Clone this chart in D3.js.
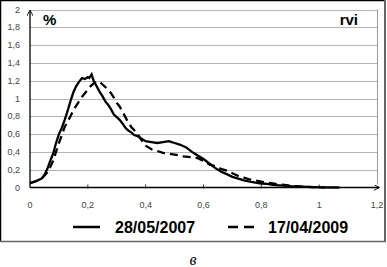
<!DOCTYPE html>
<html>
<head>
<meta charset="utf-8">
<script src="https://cdn.jsdelivr.net/npm/d3@7"></script>
<style>
  body { margin: 0; background: #fff; }
  svg { display: block; }
</style>
</head>
<body>
<div class="canvas"></div>
<script>
// chart values
const xTicks = [0, 0.2, 0.4, 0.6, 0.8, 1, 1.2];
const yTicks = [0, 0.2, 0.4, 0.6, 0.8, 1, 1.2, 1.4, 1.6, 1.8, 2];
const seriesNames = ['28/05/2007', '17/04/2009'];

// 28/05/2007 (solid)
const solidX = [0, 0.02, 0.04, 0.05, 0.06, 0.07, 0.08, 0.09, 0.10, 0.11, 0.12, 0.13, 0.14, 0.15, 0.16, 0.17, 0.18, 0.19, 0.20, 0.205, 0.213, 0.22, 0.23, 0.24, 0.25, 0.26, 0.27, 0.28, 0.29, 0.30, 0.31, 0.32, 0.33, 0.34, 0.35, 0.36, 0.37, 0.38, 0.39, 0.40, 0.42, 0.44, 0.46, 0.48, 0.49, 0.50, 0.52, 0.54, 0.56, 0.58, 0.60, 0.62, 0.64, 0.66, 0.68, 0.70, 0.72, 0.74, 0.76, 0.78, 0.80, 0.82, 0.84, 0.86, 0.88, 0.90, 0.94, 0.98, 1.02, 1.07];
const solidY = [0.05, 0.07, 0.10, 0.14, 0.21, 0.30, 0.38, 0.50, 0.60, 0.67, 0.76, 0.86, 0.97, 1.07, 1.14, 1.19, 1.23, 1.22, 1.24, 1.23, 1.27, 1.20, 1.14, 1.08, 1.03, 0.97, 0.93, 0.88, 0.82, 0.79, 0.76, 0.72, 0.67, 0.64, 0.62, 0.59, 0.58, 0.56, 0.54, 0.52, 0.51, 0.50, 0.51, 0.52, 0.51, 0.50, 0.48, 0.45, 0.40, 0.36, 0.32, 0.27, 0.22, 0.18, 0.15, 0.12, 0.10, 0.08, 0.065, 0.055, 0.045, 0.04, 0.03, 0.025, 0.02, 0.015, 0.01, 0.005, 0.002, 0];

// 17/04/2009 (dashed)
const dashX = [0, 0.02, 0.04, 0.06, 0.07, 0.08, 0.09, 0.10, 0.11, 0.12, 0.13, 0.14, 0.15, 0.16, 0.17, 0.18, 0.19, 0.20, 0.21, 0.22, 0.23, 0.24, 0.25, 0.26, 0.27, 0.28, 0.29, 0.30, 0.31, 0.32, 0.335, 0.35, 0.37, 0.38, 0.39, 0.40, 0.42, 0.44, 0.46, 0.48, 0.50, 0.53, 0.56, 0.58, 0.60, 0.62, 0.64, 0.66, 0.68, 0.70, 0.72, 0.74, 0.76, 0.78, 0.80, 0.82, 0.84, 0.86, 0.88, 0.90, 0.94, 0.98, 1.02];
const dashY = [0.05, 0.07, 0.10, 0.17, 0.23, 0.30, 0.40, 0.50, 0.59, 0.68, 0.74, 0.80, 0.87, 0.92, 0.97, 1.02, 1.06, 1.10, 1.14, 1.17, 1.19, 1.19, 1.16, 1.13, 1.10, 1.06, 1.01, 0.95, 0.91, 0.85, 0.76, 0.68, 0.61, 0.56, 0.51, 0.47, 0.43, 0.41, 0.39, 0.38, 0.37, 0.35, 0.34, 0.33, 0.30, 0.26, 0.24, 0.21, 0.19, 0.16, 0.13, 0.11, 0.09, 0.08, 0.065, 0.055, 0.045, 0.035, 0.028, 0.02, 0.01, 0.005, 0];

// dimensions
const W = 387, H = 267;
const plot = {left: 30, right: 377, top: 9.5, bottom: 187.5};
const fmt = d => String(d).replace('.', ',');

const svg = d3.select('.canvas')
    .append('svg')
    .attr('width', W)
    .attr('height', H);

const x = d3.scaleLinear().domain([0, 1.2]).range([plot.left, plot.right]);
const y = d3.scaleLinear().domain([0, 2]).range([plot.bottom, plot.top]);

// outer frame
svg.append('line').attr('x1', 0.5).attr('y1', 0).attr('x2', 0.5).attr('y2', 242).attr('stroke', '#000').attr('stroke-width', 1.5);
svg.append('line').attr('x1', 0).attr('y1', 0.5).attr('x2', 385).attr('y2', 0.5).attr('stroke', '#000').attr('stroke-width', 1.5);
svg.append('line').attr('x1', 385).attr('y1', 0).attr('x2', 385).attr('y2', 242).attr('stroke', '#666').attr('stroke-width', 2);
svg.append('line').attr('x1', 0).attr('y1', 241.5).attr('x2', 386).attr('y2', 241.5).attr('stroke', '#666').attr('stroke-width', 1.5);

// gridlines
svg.append('g')
    .selectAll('line')
    .data(yTicks.filter(d => d > 0))
    .enter().append('line')
    .attr('x1', plot.left).attr('x2', plot.right)
    .attr('y1', d => Math.round(y(d)) + 0.5).attr('y2', d => Math.round(y(d)) + 0.5)
    .attr('stroke', '#b4b4b4').attr('stroke-width', 1);

// plot right border
svg.append('line')
    .attr('x1', plot.right + 0.5).attr('x2', plot.right + 0.5)
    .attr('y1', plot.top).attr('y2', plot.bottom - 3)
    .attr('stroke', '#999');

// y labels
svg.append('g')
    .selectAll('text')
    .data(yTicks)
    .enter().append('text')
    .attr('x', 20)
    .attr('y', d => y(d) + 3)
    .attr('text-anchor', 'end')
    .attr('font-family', 'Liberation Sans, Arial, sans-serif')
    .attr('font-size', 9)
    .attr('fill', '#444')
    .text(fmt);

// x labels
svg.append('g')
    .selectAll('text')
    .data(xTicks)
    .enter().append('text')
    .attr('x', d => x(d))
    .attr('y', 208)
    .attr('text-anchor', 'middle')
    .attr('font-family', 'Liberation Sans, Arial, sans-serif')
    .attr('font-size', 9)
    .attr('fill', '#444')
    .text(fmt);

// x ticks
svg.append('g')
    .selectAll('line')
    .data(xTicks.slice(1, -1))
    .enter().append('line')
    .attr('x1', d => x(d)).attr('x2', d => x(d))
    .attr('y1', plot.bottom - 3).attr('y2', plot.bottom + 1)
    .attr('stroke', '#333');

// arrow marker
svg.append('defs').append('marker')
    .attr('id', 'arr')
    .attr('viewBox', '0 0 10 10')
    .attr('refX', 9).attr('refY', 5)
    .attr('markerWidth', 6).attr('markerHeight', 6)
    .attr('markerUnits', 'userSpaceOnUse')
    .attr('orient', 'auto')
    .append('path')
    .attr('d', 'M0,0L10,5L0,10')
    .attr('fill', 'none')
    .attr('stroke', '#000')
    .attr('stroke-width', 1.5);

// axes
svg.append('line')
    .attr('x1', plot.left).attr('y1', plot.bottom)
    .attr('x2', plot.right + 2).attr('y2', plot.bottom)
    .attr('stroke', '#000').attr('stroke-width', 1.3)
    .attr('marker-end', 'url(#arr)');
svg.append('line')
    .attr('x1', plot.left).attr('y1', plot.bottom)
    .attr('x2', plot.left).attr('y2', plot.top + 1)
    .attr('stroke', '#000').attr('stroke-width', 1.3)
    .attr('marker-end', 'url(#arr)');

// lines
const line = d3.line()
    .x(d => x(d[0]))
    .y(d => y(d[1]));

svg.append('path')
    .datum(dashX.map((d, i) => [d, dashY[i]]))
    .attr('d', line)
    .attr('fill', 'none')
    .attr('stroke', '#000')
    .attr('stroke-width', 2.3)
    .attr('stroke-dasharray', '8,5');

svg.append('path')
    .datum(solidX.map((d, i) => [d, solidY[i]]))
    .attr('d', line)
    .attr('fill', 'none')
    .attr('stroke', '#000')
    .attr('stroke-width', 2.3);

// titles in plot
svg.append('text').attr('x', 43).attr('y', 25)
    .attr('font-family', 'Liberation Sans, Arial, sans-serif')
    .attr('font-size', 15).attr('font-weight', 'bold')
    .text('%');
svg.append('text').attr('x', 358).attr('y', 25)
    .attr('text-anchor', 'end')
    .attr('font-family', 'Liberation Sans, Arial, sans-serif')
    .attr('font-size', 15).attr('font-weight', 'bold')
    .text('rvi');

// legend
const legendItems = [
    {name: seriesNames[0], lx: 73, tx: 115, dash: null},
    {name: seriesNames[1], lx: 228, tx: 268, dash: '10,6'}
];
const lg = svg.append('g');
lg.selectAll('line')
    .data(legendItems)
    .enter().append('line')
    .attr('x1', d => d.lx).attr('x2', d => d.lx + 27)
    .attr('y1', 227).attr('y2', 227)
    .attr('stroke', '#000').attr('stroke-width', 2.5)
    .attr('stroke-dasharray', d => d.dash);
lg.selectAll('text')
    .data(legendItems)
    .enter().append('text')
    .attr('x', d => d.tx).attr('y', 233)
    .attr('font-family', 'Liberation Sans, Arial, sans-serif')
    .attr('font-size', 16).attr('font-weight', 'bold')
    .text(d => d.name);

// caption
svg.append('text').attr('x', 193).attr('y', 265)
    .attr('text-anchor', 'middle')
    .attr('font-family', 'Liberation Serif, serif')
    .attr('font-style', 'italic')
    .attr('font-size', 16)
    .text('в');
</script>
</body>
</html>
